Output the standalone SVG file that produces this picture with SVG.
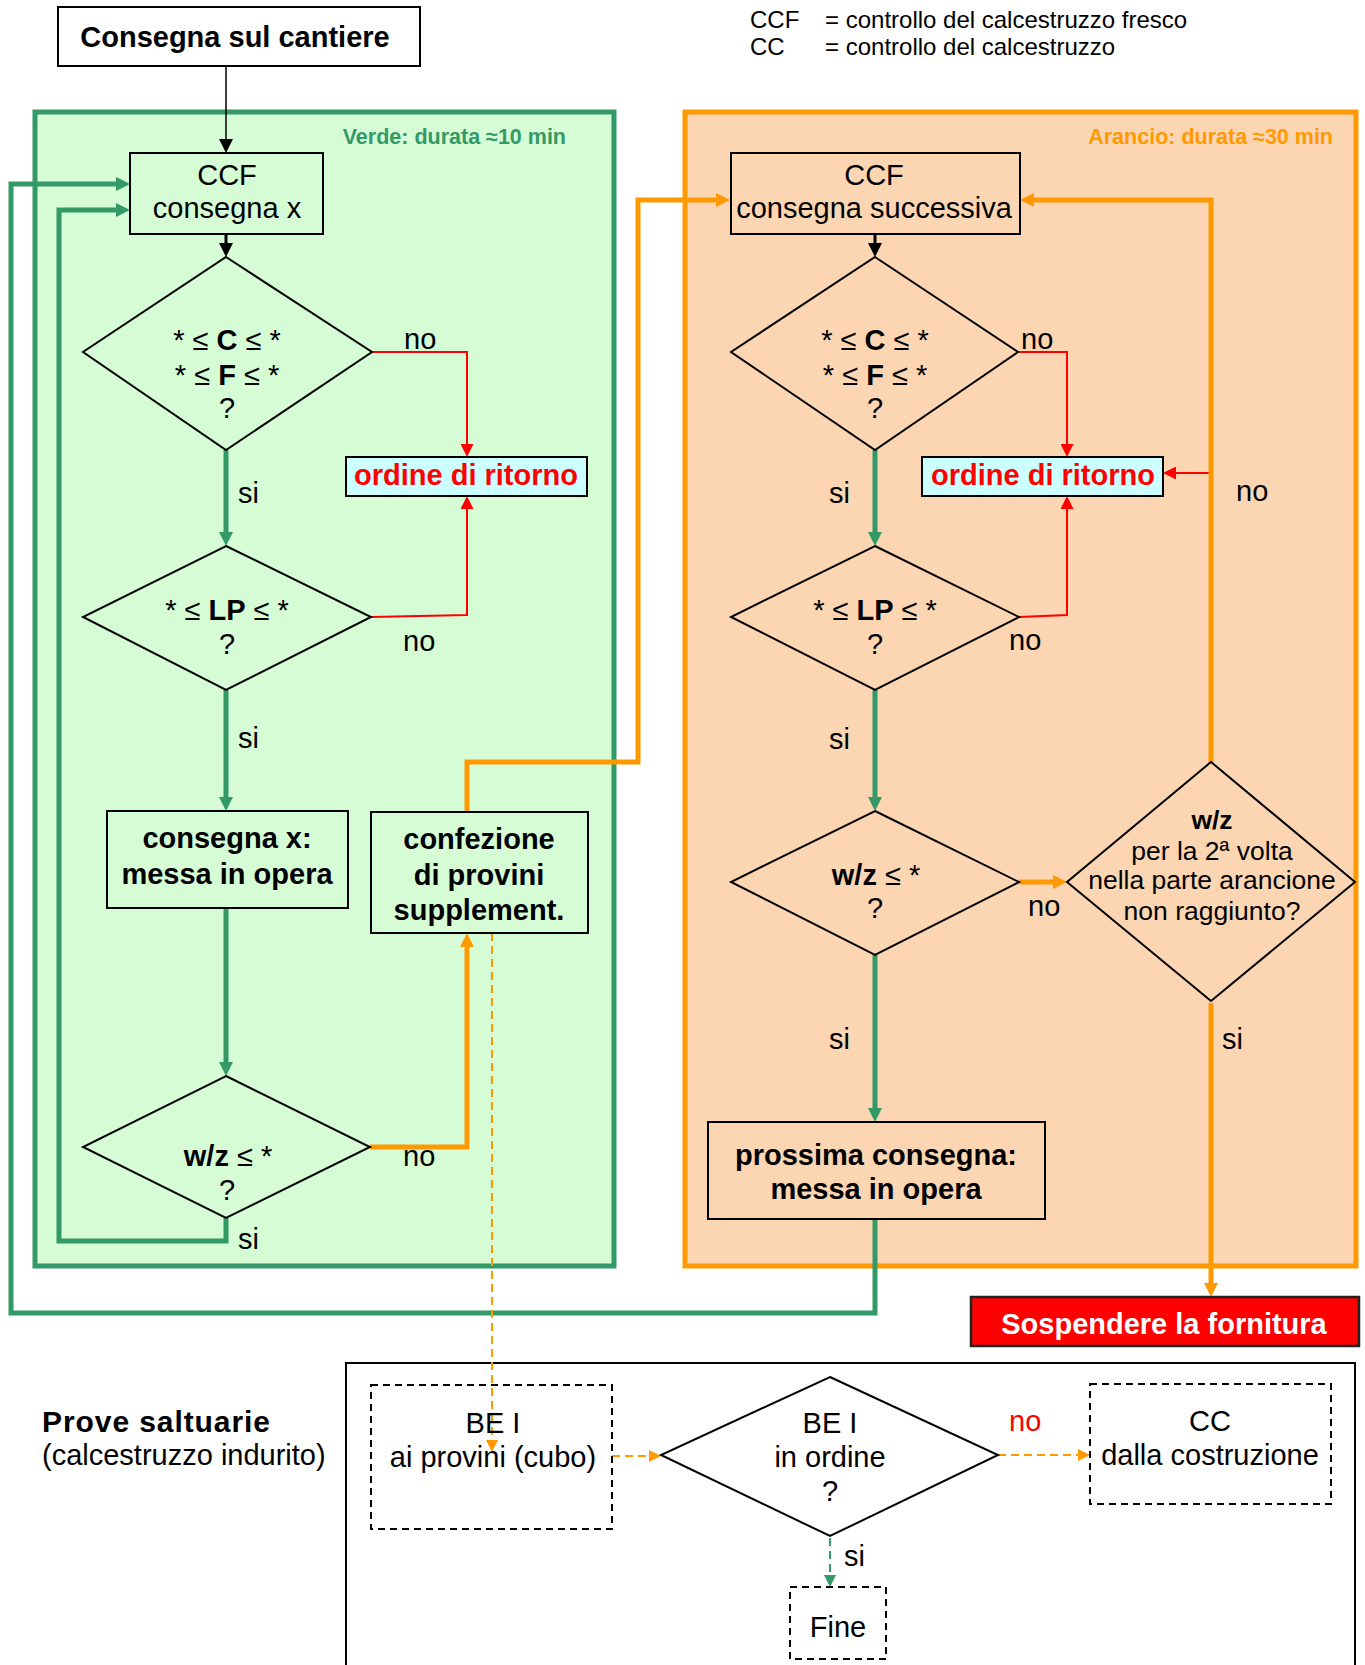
<svg xmlns="http://www.w3.org/2000/svg" width="1365" height="1665" viewBox="0 0 1365 1665">
<defs>
<style>
text{font-family:"Liberation Sans",Arial,sans-serif;font-size:29px;fill:#000}
.c{text-anchor:middle}
.b{font-weight:bold}
.box{fill:none;stroke:#000;stroke-width:2}
.dash{fill:none;stroke:#000;stroke-width:2;stroke-dasharray:7 5}
.dia{fill:none;stroke:#000;stroke-width:2}
.g{fill:none;stroke:#339966;stroke-width:5}
.o{fill:none;stroke:#FF9900;stroke-width:5}
.od{fill:none;stroke:#FF9900;stroke-width:2;stroke-dasharray:8 5}
.gd{fill:none;stroke:#339966;stroke-width:2;stroke-dasharray:8 5}
.r{fill:none;stroke:#FF0000;stroke-width:2}
.k{fill:none;stroke:#000;stroke-width:1.5}
.k3{fill:none;stroke:#000;stroke-width:3}
</style>
<marker id="mg" viewBox="0 0 10 10" refX="0" refY="5" markerWidth="14" markerHeight="14" markerUnits="userSpaceOnUse" orient="auto"><path d="M0,0 L10,5 L0,10 z" fill="#339966"/></marker>
<marker id="mo" viewBox="0 0 10 10" refX="0" refY="5" markerWidth="14" markerHeight="14" markerUnits="userSpaceOnUse" orient="auto"><path d="M0,0 L10,5 L0,10 z" fill="#FF9900"/></marker>
<marker id="mos" viewBox="0 0 10 10" refX="0" refY="5" markerWidth="12" markerHeight="12" markerUnits="userSpaceOnUse" orient="auto"><path d="M0,0 L10,5 L0,10 z" fill="#FF9900"/></marker>
<marker id="mgs" viewBox="0 0 10 10" refX="0" refY="5" markerWidth="12" markerHeight="12" markerUnits="userSpaceOnUse" orient="auto"><path d="M0,0 L10,5 L0,10 z" fill="#339966"/></marker>
<marker id="mr" viewBox="0 0 10 10" refX="0" refY="5" markerWidth="13" markerHeight="13" markerUnits="userSpaceOnUse" orient="auto"><path d="M0,0 L10,5 L0,10 z" fill="#FF0000"/></marker>
<marker id="mk" viewBox="0 0 10 10" refX="0" refY="5" markerWidth="14" markerHeight="14" markerUnits="userSpaceOnUse" orient="auto"><path d="M0,0 L10,5 L0,10 z" fill="#000"/></marker>
</defs>
<rect width="1365" height="1665" fill="#fff"/>

<!-- legend -->
<g id="legend">
<text x="750" y="28" style="font-size:24px">CCF</text>
<text x="825" y="28" style="font-size:24px">= controllo del calcestruzzo fresco</text>
<text x="750" y="55" style="font-size:24px">CC</text>
<text x="825" y="55" style="font-size:24px">= controllo del calcestruzzo</text>
</g>

<!-- zones -->
<g id="zone-verde">
<rect x="35" y="112" width="579" height="1154" fill="#D5FCD5" stroke="#339966" stroke-width="5"/>
<text x="566" y="144" class="b" style="font-size:21.5px;fill:#339966;text-anchor:end">Verde: durata ≈10 min</text>
</g>
<g id="zone-arancio">
<rect x="685" y="112" width="671" height="1154" fill="#FCD6B2" stroke="#FF9900" stroke-width="5"/>
<text x="1333" y="144" class="b" style="font-size:21.5px;fill:#FF9900;text-anchor:end">Arancio: durata ≈30 min</text>
</g>
<g id="zone-prove">
<rect x="346" y="1363" width="1009" height="320" fill="none" stroke="#000" stroke-width="2"/>
<text x="42" y="1432" class="b" style="font-size:30px" textLength="228">Prove saltuarie</text>
<text x="42" y="1465">(calcestruzzo indurito)</text>
</g>

<!-- connectors -->
<g id="connectors">
<path class="k" d="M226,66 V139" marker-end="url(#mk)"/>
<path class="k3" d="M226,234 V243" marker-end="url(#mk)"/>
<path class="k3" d="M875,234 V243" marker-end="url(#mk)"/>
<path class="g" d="M875,1219 V1313 H11 V184 H116" marker-end="url(#mg)"/>
<path class="g" d="M226,1218 V1241 H59 V210 H116" marker-end="url(#mg)"/>
<path class="g" d="M226,450 V532" marker-end="url(#mg)"/>
<path class="g" d="M226,690 V797" marker-end="url(#mg)"/>
<path class="g" d="M226,908 V1062" marker-end="url(#mg)"/>
<path class="g" d="M875,450 V532" marker-end="url(#mg)"/>
<path class="g" d="M875,690 V797" marker-end="url(#mg)"/>
<path class="g" d="M875,955 V1108" marker-end="url(#mg)"/>
<path class="r" d="M372,352 H467 V444" marker-end="url(#mr)"/>
<path class="r" d="M371,617 L467,615 V509" marker-end="url(#mr)"/>
<path class="r" d="M1019,352 H1067 V444" marker-end="url(#mr)"/>
<path class="r" d="M1019,617 L1067,615 V509" marker-end="url(#mr)"/>
<path class="r" d="M1211,473 H1176" marker-end="url(#mr)"/>
<path class="o" d="M370,1147 H467 V947" marker-end="url(#mo)"/>
<path class="o" d="M467,812 V762 H638 V200 H716" marker-end="url(#mo)"/>
<path class="o" d="M1211,763 V200 H1034" marker-end="url(#mo)"/>
<path class="o" d="M1019,882 H1053" marker-end="url(#mo)"/>
<path class="o" d="M1211,1003 V1283" marker-end="url(#mo)"/>
<path class="od" d="M492,933 V1440" marker-end="url(#mos)"/>
<path class="od" d="M612,1456 H649" marker-end="url(#mos)"/>
<path class="od" d="M998,1455 L1078,1455" marker-end="url(#mos)"/>
<path class="gd" d="M830,1538 V1575" marker-end="url(#mgs)"/>
<text x="404" y="349">no</text>
<text x="403" y="651">no</text>
<text x="403" y="1166">no</text>
<text x="1021" y="349">no</text>
<text x="1009" y="650">no</text>
<text x="1236" y="501">no</text>
<text x="1028" y="916">no</text>
<text x="1009" y="1431" style="fill:#FF0000">no</text>
<text x="238" y="503">si</text>
<text x="238" y="748">si</text>
<text x="238" y="1249">si</text>
<text x="829" y="503">si</text>
<text x="829" y="749">si</text>
<text x="829" y="1049">si</text>
<text x="1222" y="1049">si</text>
<text x="844" y="1566">si</text>
</g>

<!-- nodes -->
<g id="n-consegna">
<rect x="58" y="7" width="362" height="59" fill="#fff" stroke="#000" stroke-width="2"/>
<text x="235" y="47" class="c b">Consegna sul cantiere</text>
</g>
<g id="n-ccf-x">
<rect class="box" x="130" y="153" width="193" height="81"/>
<text x="227" y="185" class="c">CCF</text>
<text x="227" y="218" class="c">consegna x</text>
</g>
<g id="n-cf-left">
<polygon class="dia" points="226,257 372,352 226,450 83,352"/>
<text x="227" y="350" class="c">* ≤ <tspan class="b">C</tspan> ≤ *</text>
<text x="227" y="385" class="c">* ≤ <tspan class="b">F</tspan> ≤ *</text>
<text x="227" y="418" class="c">?</text>
</g>
<g id="n-ordine-left">
<rect x="346" y="457" width="241" height="39" fill="#CCFFFF" stroke="#000" stroke-width="2"/>
<text x="466" y="485" class="c b" style="fill:#FF0000">ordine di ritorno</text>
</g>
<g id="n-lp-left">
<polygon class="dia" points="226,546 371,617 226,690 83,617"/>
<text x="227" y="620" class="c">* ≤ <tspan class="b">LP</tspan> ≤ *</text>
<text x="227" y="654" class="c">?</text>
</g>
<g id="n-messa-x">
<rect class="box" x="107" y="811" width="241" height="97"/>
<text x="227" y="848" class="c b">consegna x:</text>
<text x="227" y="884" class="c b">messa in opera</text>
</g>
<g id="n-confezione">
<rect class="box" x="371" y="812" width="217" height="121"/>
<text x="479" y="849" class="c b">confezione</text>
<text x="479" y="885" class="c b">di provini</text>
<text x="479" y="920" class="c b">supplement.</text>
</g>
<g id="n-wz-left">
<polygon class="dia" points="226,1076 370,1147 226,1218 83,1147"/>
<text x="228" y="1166" class="c"><tspan class="b">w/z</tspan> ≤ *</text>
<text x="227" y="1200" class="c">?</text>
</g>
<g id="n-ccf-succ">
<rect class="box" x="731" y="153" width="289" height="81"/>
<text x="874" y="185" class="c">CCF</text>
<text x="874" y="218" class="c">consegna successiva</text>
</g>
<g id="n-cf-right">
<polygon class="dia" points="875,257 1018,352 875,450 731,352"/>
<text x="875" y="350" class="c">* ≤ <tspan class="b">C</tspan> ≤ *</text>
<text x="875" y="385" class="c">* ≤ <tspan class="b">F</tspan> ≤ *</text>
<text x="875" y="418" class="c">?</text>
</g>
<g id="n-ordine-right">
<rect x="922" y="457" width="241" height="39" fill="#CCFFFF" stroke="#000" stroke-width="2"/>
<text x="1043" y="485" class="c b" style="fill:#FF0000">ordine di ritorno</text>
</g>
<g id="n-lp-right">
<polygon class="dia" points="875,546 1019,617 875,690 731,617"/>
<text x="875" y="620" class="c">* ≤ <tspan class="b">LP</tspan> ≤ *</text>
<text x="875" y="654" class="c">?</text>
</g>
<g id="n-wz-right">
<polygon class="dia" points="875,811 1019,882 875,955 731,882"/>
<text x="876" y="885" class="c"><tspan class="b">w/z</tspan> ≤ *</text>
<text x="875" y="918" class="c">?</text>
</g>
<g id="n-wz-2a">
<polygon class="dia" points="1211,762 1355,882 1211,1001 1067,882"/>
<text x="1212" y="829" class="c b" style="font-size:26.5px">w/z</text>
<text x="1212" y="860" class="c" style="font-size:26.5px">per la 2ª volta</text>
<text x="1212" y="889" class="c" style="font-size:26.5px">nella parte arancione</text>
<text x="1212" y="920" class="c" style="font-size:26.5px">non raggiunto?</text>
</g>
<g id="n-prossima">
<rect class="box" x="708" y="1122" width="337" height="97"/>
<text x="876" y="1165" class="c b">prossima consegna:</text>
<text x="876" y="1199" class="c b">messa in opera</text>
</g>
<g id="n-sospendere">
<rect x="971" y="1297" width="388" height="49" fill="#FF0000" stroke="#222" stroke-width="2.5"/>
<text x="1164" y="1334" class="c b" style="fill:#fff">Sospendere la fornitura</text>
</g>
<g id="n-bei-provini">
<rect class="dash" x="371" y="1385" width="241" height="144"/>
<text x="493" y="1433" class="c">BE I</text>
<text x="493" y="1467" class="c">ai provini (cubo)</text>
</g>
<g id="n-bei-ordine">
<polygon class="dia" points="830,1377 998,1455 830,1536 661,1455"/>
<text x="830" y="1433" class="c">BE I</text>
<text x="830" y="1467" class="c">in ordine</text>
<text x="830" y="1501" class="c">?</text>
</g>
<g id="n-cc">
<rect class="dash" x="1090" y="1384" width="241" height="120"/>
<text x="1210" y="1431" class="c">CC</text>
<text x="1210" y="1465" class="c">dalla costruzione</text>
</g>
<g id="n-fine">
<rect class="dash" x="790" y="1587" width="96" height="72"/>
<text x="838" y="1637" class="c">Fine</text>
</g>
</svg>
